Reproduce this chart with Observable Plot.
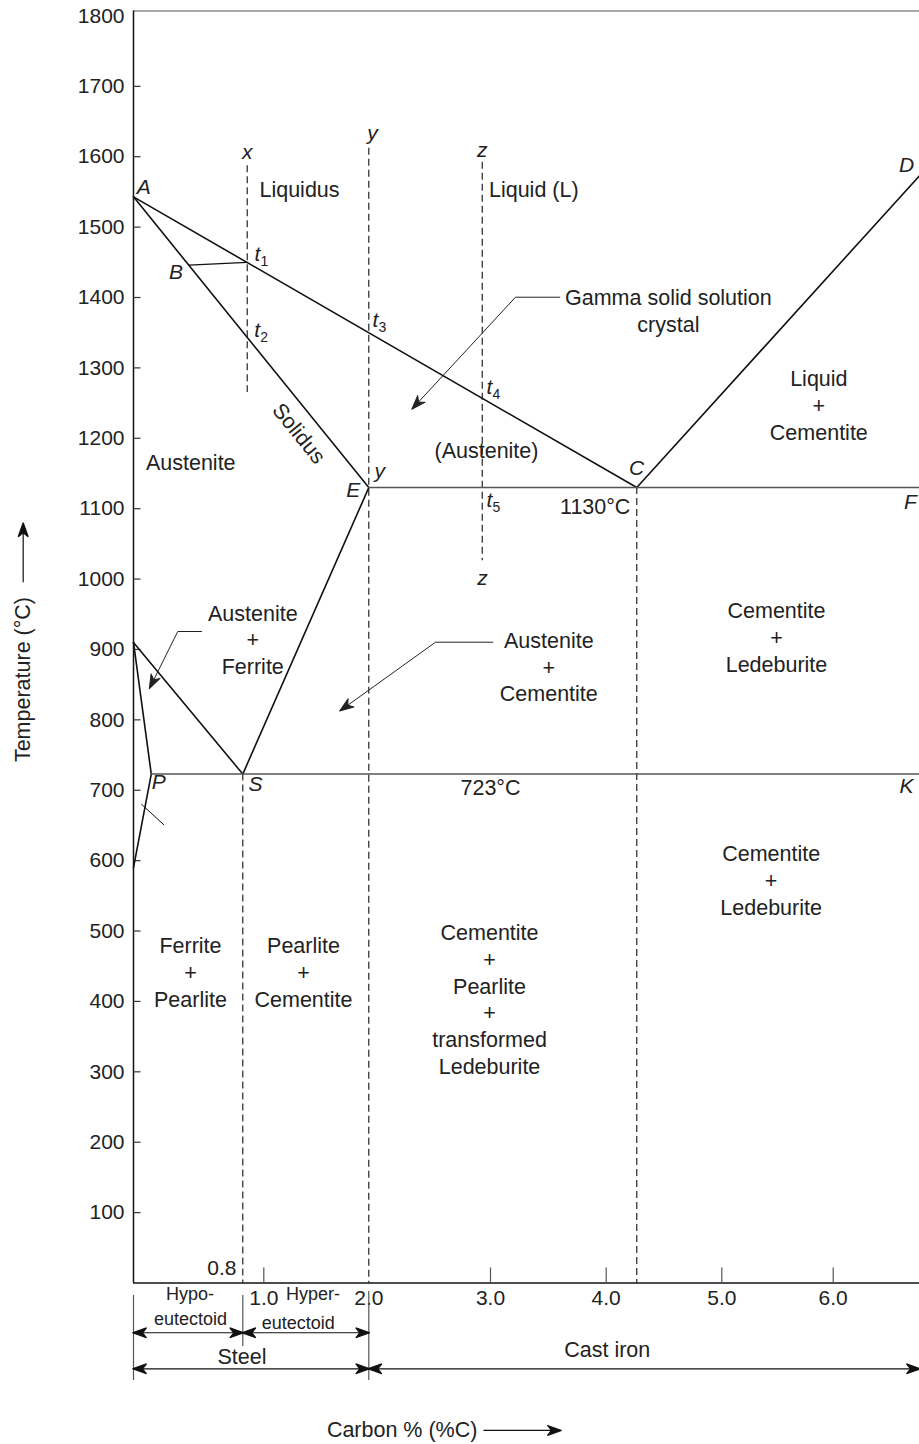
<!DOCTYPE html>
<html>
<head>
<meta charset="utf-8">
<script src="https://cdn.jsdelivr.net/npm/d3@7"></script>
<script src="https://cdn.jsdelivr.net/npm/@observablehq/plot@0.6"></script>
<style>
  html, body { margin: 0; padding: 0; background: #fff; }
  #chart svg { display: block; }
</style>
</head>
<body>
<div id="chart"></div>
<script>
// ---------------- data ----------------
const yTickValues = [100, 200, 300, 400, 500, 600, 700, 800, 900, 1000, 1100, 1200, 1300, 1400, 1500, 1600, 1700, 1800];
const xTickValues = [1, 2, 3, 4, 5, 6];
const xTickLabels = ["1.0", "2.0", "3.0", "4.0", "5.0", "6.0"];
const xTickMarkValues = [1, 3, 4, 5, 6];

// phase boundaries [carbon %, temperature °C]
const liquidusAC = [[0, 1543], [4.3, 1130]];
const liquidusCD = [[4.3, 1130], [6.67, 1573]];
const solidusAE = [[0, 1543], [2.0, 1130]];
const acmES = [[2.0, 1130], [0.8, 723]];
const a3GS = [[0, 910], [0.8, 723]];
const ferriteGPQ = [[0, 910], [0.13, 723], [0, 590]];
const eutecticEF = [[2.0, 1130], [6.67, 1130]];
const eutectoidPK = [[0.13, 723], [6.67, 723]];
const tieLineBt1 = [[0.405, 1446], [0.842, 1450]];
const hatchNearP = [[0.059, 680], [0.222, 651]];

// dashed composition / reference verticals
const dashedVerticals = [
  {x: 0.842, y1: 1587, y2: 1265},
  {x: 2.0, y1: 1612, y2: 0},
  {x: 2.932, y1: 1592, y2: 1026},
  {x: 0.8, y1: 723, y2: 0},
  {x: 4.3, y1: 1130, y2: 0}
];

// leader arrows
const leaderGamma = [[3.599, 1400.4], [3.216, 1400.4], [2.359, 1242.3]];
const leaderAustFerrite = [[0.498, 925.5], [0.324, 925.5], [0.119, 845.5]];
const leaderAustCementite = [[3.020, 910.3], [2.548, 910.3], [1.730, 813.3]];

// region labels (block centres)
const regionLabels = [
  {text: "Liquidus", x: 1.340, y: 1555.3},
  {text: "Liquid (L)", x: 3.374, y: 1554.4},
  {text: "Gamma solid solution\ncrystal", x: 4.56, y: 1381.9},
  {text: "Liquid\n+\nCementite", x: 5.871, y: 1248.0},
  {text: "(Austenite)", x: 2.967, y: 1183.7},
  {text: "Austenite", x: 0.419, y: 1167.0},
  {text: "1130°C", x: 3.905, y: 1104.5},
  {text: "Austenite\n+\nFerrite", x: 0.895, y: 915.2},
  {text: "Austenite\n+\nCementite", x: 3.504, y: 876.2},
  {text: "Cementite\n+\nLedeburite", x: 5.491, y: 918.4},
  {text: "723°C", x: 3.0, y: 705.3},
  {text: "Cementite\n+\nLedeburite", x: 5.443, y: 573.2},
  {text: "Ferrite\n+\nPearlite", x: 0.417, y: 442.5},
  {text: "Pearlite\n+\nCementite", x: 1.378, y: 442.5},
  {text: "Cementite\n+\nPearlite\n+\ntransformed\nLedeburite", x: 2.992, y: 404.2}
];
const solidusLabel = [{text: "Solidus", x: 1.333, y: 1206.8}];

// point letters (italic)
const pointLabels = [
  {text: "A", x: 0.075, y: 1556.7},
  {text: "B", x: 0.311, y: 1435.9},
  {text: "C", x: 4.297, y: 1156.7},
  {text: "D", x: 6.57, y: 1587.5},
  {text: "E", x: 1.851, y: 1125.8},
  {text: "F", x: 6.60, y: 1109.2},
  {text: "K", x: 6.57, y: 705.3},
  {text: "P", x: 0.185, y: 711.0},
  {text: "S", x: 0.921, y: 709.2},
  {text: "x", x: 0.842, y: 1606.0},
  {text: "y", x: 2.030, y: 1632.6},
  {text: "z", x: 2.932, y: 1608.8},
  {text: "y", x: 2.090, y: 1153.2},
  {text: "z", x: 2.934, y: 1000.8}
];
const tLabels = [
  {sub: "1", x: 0.940, y: 1461.1},
  {sub: "2", x: 0.937, y: 1353.1},
  {sub: "3", x: 2.055, y: 1367.3},
  {sub: "4", x: 2.991, y: 1272.1},
  {sub: "5", x: 2.991, y: 1111.6}
];

// classification brackets below the axis
const bracketDividers = [
  {x: 0, y1: -17.8, y2: -138.5},
  {x: 0.8, y1: -17.8, y2: -90.2},
  {x: 2.0, y1: -12.1, y2: -138.5}
];
const bracketArrows = [
  {x1: 0, x2: 0.8, y: -70.7},
  {x1: 0.8, x2: 2.0, y: -70.7},
  {x1: 0, x2: 2.0, y: -121.9},
  {x1: 2.0, x2: 6.67, y: -121.9}
];
const bracketSmallLabels = [
  {text: "Hypo-", x: 0.413, y: -15.3},
  {text: "eutectoid", x: 0.417, y: -50.9},
  {text: "Hyper-", x: 1.469, y: -15.3},
  {text: "eutectoid", x: 1.328, y: -57.1}
];
const bracketLabels = [
  {text: "Steel", x: 0.794, y: -105.4},
  {text: "Cast iron", x: 4.010, y: -95.9}
];
const xTitle = [{text: "Carbon % (%C)", x: 2.274, y: -209.5}];
const xTitleArrow = [{x1: 2.942, x2: 3.605, y: -209.5}];
const yTitle = [{text: "Temperature (°C)", y: 857.3}];
const yTitleArrow = [{y1: 995.6, y2: 1078.5}];

// ---------------- rendering ----------------
function stealth(orient) {
  return (color, context) => {
    const doc = (context && context.document) || document;
    const ns = "http://www.w3.org/2000/svg";
    const m = doc.createElementNS(ns, "marker");
    m.setAttribute("viewBox", "-15 -7 17 14");
    m.setAttribute("markerWidth", 17);
    m.setAttribute("markerHeight", 14);
    m.setAttribute("markerUnits", "userSpaceOnUse");
    m.setAttribute("refX", 0);
    m.setAttribute("refY", 0);
    m.setAttribute("orient", orient);
    const p = doc.createElementNS(ns, "path");
    p.setAttribute("d", "M1,0L-13,-5L-9,0L-13,5Z");
    p.setAttribute("fill", color && color !== "none" ? color : "#000");
    m.appendChild(p);
    return m;
  };
}
const stealthEnd = stealth("auto");
const stealthStart = stealth("auto-start-reverse");

const FONT = "'Liberation Sans', Arial, Helvetica, sans-serif";
const INK = "#222";
const px = (d) => d[0], py = (d) => d[1];
const lineOpts = {x: px, y: py, stroke: "#111", strokeWidth: 1.6};
const grayLineOpts = {x: px, y: py, stroke: "#555", strokeWidth: 1.6};

const chart = Plot.plot({
  width: 919,
  height: 1444,
  marginLeft: 133,
  marginRight: 0,
  marginTop: 10.5,
  marginBottom: 161.5,
  style: {fontFamily: FONT, background: "#fff", color: INK, overflow: "hidden"},
  x: {type: "linear", axis: null,
      domain: [0, 0.8, 2, 3, 4, 4.3, 5, 6, 6.67],
      range: [133, 242.3, 368.3, 490, 605.7, 636.3, 721.3, 832.7, 919]},
  y: {type: "linear", axis: null, domain: [0, 1807]},
  marks: [
    // frame
    Plot.ruleY([1807], {x1: 0, x2: 6.67, stroke: "#555", strokeWidth: 1}),
    Plot.ruleY([0], {x1: 0, x2: 6.67, stroke: "#111", strokeWidth: 1.5}),
    Plot.ruleX([0], {y1: 0, y2: 1807, stroke: "#111", strokeWidth: 1.5}),
    // ticks
    Plot.tickY(yTickValues.filter((v) => v < 1800), {y: (d) => d, insetRight: 778.5, stroke: "#333", strokeWidth: 1.2}),
    Plot.tickX(xTickMarkValues, {x: (d) => d, insetTop: 1257, stroke: "#555", strokeWidth: 1.2}),
    Plot.text(yTickValues, {y: (d) => d, frameAnchor: "left", dx: -9, textAnchor: "end", text: (d) => String(d), fontSize: 21, fill: INK}),
    Plot.text(xTickValues.map((v, i) => ({v, label: xTickLabels[i]})), {x: "v", y: () => 0, dy: 15, text: "label", fontSize: 21, fill: INK}),
    Plot.text(["0.8"], {x: () => 0.8, y: () => 0, dx: -21, dy: -15, text: (d) => d, fontSize: 21, fill: INK}),
    // dashed verticals
    Plot.ruleX(dashedVerticals, {x: "x", y1: "y1", y2: "y2", stroke: "#111", strokeWidth: 1.1, strokeDasharray: "7,4"}),
    // phase lines
    Plot.line(liquidusAC, lineOpts),
    Plot.line(liquidusCD, lineOpts),
    Plot.line(solidusAE, lineOpts),
    Plot.line(acmES, lineOpts),
    Plot.line(a3GS, lineOpts),
    Plot.line(ferriteGPQ, lineOpts),
    Plot.line(eutecticEF, grayLineOpts),
    Plot.line(eutectoidPK, grayLineOpts),
    Plot.line(tieLineBt1, {...lineOpts, strokeWidth: 1.2}),
    Plot.line(hatchNearP, {...lineOpts, strokeWidth: 1}),
    // leaders
    Plot.line(leaderGamma, {x: px, y: py, stroke: "#222", strokeWidth: 1, markerEnd: stealthEnd}),
    Plot.line(leaderAustFerrite, {x: px, y: py, stroke: "#222", strokeWidth: 1, markerEnd: stealthEnd}),
    Plot.line(leaderAustCementite, {x: px, y: py, stroke: "#222", strokeWidth: 1, markerEnd: stealthEnd}),
    // labels
    Plot.text(regionLabels, {x: "x", y: "y", text: "text", fontSize: 21.5, lineHeight: 1.24, fill: INK}),
    Plot.text(solidusLabel, {x: "x", y: "y", text: "text", fontSize: 21.5, rotate: 51, fill: INK}),
    Plot.text(pointLabels, {x: "x", y: "y", text: "text", fontSize: 21, fontStyle: "italic", fill: INK}),
    Plot.text(tLabels, {x: "x", y: "y", text: () => "t", fontSize: 21, fontStyle: "italic", fill: INK}),
    Plot.text(tLabels, {x: "x", y: "y", text: "sub", dx: 7, dy: 7, fontSize: 14, fill: INK}),
    // brackets below axis
    Plot.ruleX(bracketDividers, {x: "x", y1: "y1", y2: "y2", stroke: "#555", strokeWidth: 1.2}),
    Plot.link(bracketArrows, {x1: "x1", x2: "x2", y1: "y", y2: "y", stroke: "#111", strokeWidth: 1.2, markerStart: stealthStart, markerEnd: stealthEnd}),
    Plot.text(bracketSmallLabels, {x: "x", y: "y", text: "text", fontSize: 18, fill: INK}),
    Plot.text(bracketLabels, {x: "x", y: "y", text: "text", fontSize: 21.5, fill: INK}),
    // axis titles
    Plot.text(xTitle, {x: "x", y: "y", text: "text", fontSize: 21.5, fill: INK}),
    Plot.link(xTitleArrow, {x1: "x1", x2: "x2", y1: "y", y2: "y", stroke: "#111", strokeWidth: 1.2, markerEnd: stealthEnd}),
    Plot.text(yTitle, {frameAnchor: "left", textAnchor: "middle", dx: -110.3, y: "y", text: "text", rotate: -90, fontSize: 21.5, fill: INK}),
    Plot.link(yTitleArrow, {x1: () => 0, x2: () => 0, y1: "y1", y2: "y2", dx: -110.3, stroke: "#111", strokeWidth: 1.2, markerEnd: stealthEnd})
  ]
});
document.getElementById("chart").appendChild(chart);
</script>
</body>
</html>
